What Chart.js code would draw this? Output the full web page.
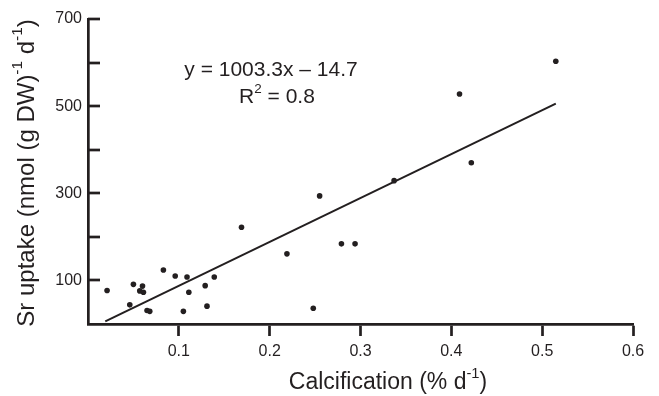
<!DOCTYPE html>
<html>
<head>
<meta charset="utf-8">
<script src="https://cdn.jsdelivr.net/npm/chart.js@4.4.1/dist/chart.umd.min.js"></script>
<style>
  html, body { margin: 0; padding: 0; background: #fff; }
  #wrap { width: 659px; height: 396px; }
</style>
</head>
<body>
<div id="wrap"><canvas id="srChart" width="659" height="396"></canvas></div>
<script>
// values
const calcification = [0.021, 0.050, 0.060, 0.057, 0.061, 0.046, 0.065, 0.068, 0.083, 0.096,
  0.109, 0.111, 0.129, 0.139, 0.105, 0.131, 0.169, 0.219, 0.255, 0.279,
  0.294, 0.248, 0.337, 0.409, 0.422, 0.515];
const srUptake = [77, 91, 87, 76, 73, 44, 31, 29, 124, 110,
  108, 73, 88, 108, 29, 41, 222, 161, 294, 184,
  184, 36, 329, 528, 370, 603];
const fitX = [0.019, 0.515];
const fitY = [6, 506];
const yLabelled = [100, 300, 500, 700];
const xTickStep = 0.1;
const equationText = "y = 1003.3x \u2013 14.7";
const r2Text = "0.8";

const INK = "#231f20";
const FONT = "'Liberation Sans', Arial, Helvetica, sans-serif";

// text made of normal and superscript pieces, centred on (cx, cy)
function paintRich(ctx, parts, size, cx, cy, rot) {
  const widths = parts.map(p => {
    ctx.font = (p.sup ? size * 0.64 : size) + "px " + FONT;
    return ctx.measureText(p.t).width;
  });
  const total = widths.reduce((a, b) => a + b, 0);
  ctx.save();
  ctx.translate(cx, cy);
  if (rot) ctx.rotate(rot);
  ctx.fillStyle = INK;
  ctx.textBaseline = "middle";
  ctx.textAlign = "left";
  let x = -total / 2;
  parts.forEach((p, i) => {
    ctx.font = (p.sup ? size * 0.64 : size) + "px " + FONT;
    ctx.fillText(p.t, x, p.sup ? -size * 0.38 : 0);
    x += widths[i];
  });
  ctx.restore();
}

const decorations = {
  id: "decorations",
  afterDraw(chart) {
    const ctx = chart.ctx;
    const area = chart.chartArea;
    const ys = chart.scales.y;
    // inward ticks on the y axis
    ctx.save();
    ctx.strokeStyle = INK;
    ctx.lineWidth = 2.7;
    ys.ticks.forEach(t => {
      if (t.value === 0) return;
      const py = Math.round(ys.getPixelForValue(t.value));
      ctx.beginPath();
      ctx.moveTo(area.left, py);
      ctx.lineTo(area.left + 12, py);
      ctx.stroke();
    });
    ctx.restore();

    paintRich(ctx, [{ t: "Calcification (% d" }, { t: "-1", sup: true }, { t: ")" }], 23, 388, 383);
    paintRich(ctx, [{ t: "Sr uptake (nmol (g DW)" }, { t: "-1", sup: true }, { t: " d" }, { t: "-1", sup: true }, { t: ")" }],
      24, 27, 173, -Math.PI / 2);
    paintRich(ctx, [{ t: equationText }], 21, 271, 70);
    paintRich(ctx, [{ t: "R" }, { t: "2", sup: true }, { t: " = " + r2Text }], 21, 277, 97);
  }
};

new Chart(document.getElementById("srChart"), {
  type: "scatter",
  data: {
    datasets: [
      {
        label: "Sr uptake",
        data: calcification.map((x, i) => ({ x: x, y: srUptake[i] })),
        backgroundColor: INK,
        borderColor: INK,
        pointRadius: 2.8,
        pointBorderWidth: 0,
      },
      {
        type: "line",
        label: "Fit",
        data: fitX.map((x, i) => ({ x: x, y: fitY[i] })),
        borderColor: INK,
        borderWidth: 2,
        pointRadius: 0,
        fill: false,
      },
    ],
  },
  options: {
    responsive: false,
    animation: false,
    layout: { padding: { top: 19, right: 26, left: 0, bottom: 0 } },
    scales: {
      x: {
        type: "linear",
        min: 0,
        max: 0.6,
        afterBuildTicks: s => { s.ticks = s.ticks.filter(t => t.value > 0.001); },
        afterFit: s => { s.height = 72; },
        ticks: {
          stepSize: xTickStep,
          color: INK,
          font: { family: FONT, size: 16 },
          padding: 6,
          maxRotation: 0,
          callback: v => v.toFixed(1),
        },
        grid: { drawOnChartArea: false, tickLength: 12, tickWidth: 2.7, tickColor: INK },
        border: { color: INK, width: 2.7 },
      },
      y: {
        min: 0,
        max: 700,
        afterFit: s => { s.width = 88; },
        ticks: {
          stepSize: 100,
          color: INK,
          font: { family: FONT, size: 16 },
          padding: 6,
          callback: v => (yLabelled.includes(v) ? String(v) : ""),
        },
        grid: { display: false, drawTicks: false },
        border: { color: INK, width: 2.7 },
      },
    },
    plugins: {
      legend: { display: false },
      tooltip: { enabled: false },
    },
  },
  plugins: [decorations],
});
</script>
</body>
</html>
